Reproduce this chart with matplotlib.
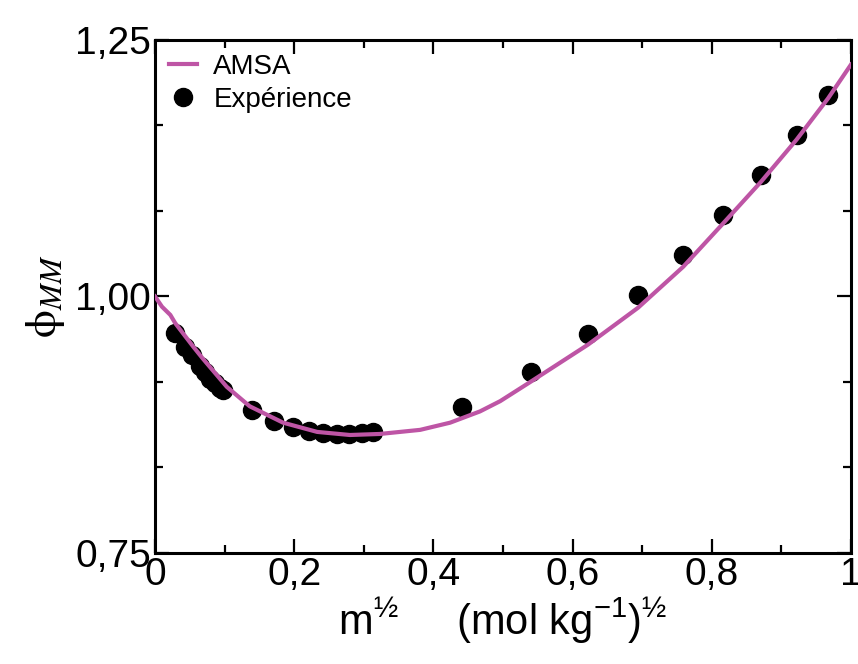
import matplotlib
matplotlib.use("Agg")
import matplotlib.pyplot as plt
from matplotlib.ticker import MultipleLocator, FuncFormatter

# AMSA model curve
amsa_x = [0.0, 0.01, 0.022, 0.029, 0.055, 0.068, 0.103, 0.136, 0.184, 0.233, 0.28,
          0.323, 0.381, 0.424, 0.467, 0.496, 0.54, 0.622, 0.694, 0.759, 0.816,
          0.871, 0.922, 0.967, 1.0]
amsa_y = [1.0, 0.990, 0.982, 0.974, 0.951, 0.940, 0.912, 0.893, 0.877, 0.868, 0.865,
          0.866, 0.870, 0.877, 0.888, 0.898, 0.917, 0.953, 0.989, 1.029, 1.071,
          1.112, 1.153, 1.193, 1.226]

# experimental points
exp_x = [0.029, 0.043, 0.053, 0.065, 0.072, 0.079, 0.086, 0.093, 0.098,
         0.139, 0.171, 0.198, 0.221, 0.241, 0.262, 0.279, 0.297, 0.313,
         0.441, 0.540, 0.622, 0.694, 0.759, 0.816, 0.871, 0.922, 0.967]
exp_y = [0.964, 0.951, 0.943, 0.932, 0.926, 0.920, 0.916, 0.911, 0.909,
         0.889, 0.879, 0.873, 0.869, 0.867, 0.866, 0.866, 0.867, 0.868,
         0.892, 0.926, 0.963, 1.001, 1.040, 1.079, 1.118, 1.157, 1.196]

plt.rcParams['font.family'] = ['Liberation Sans', 'DejaVu Sans']
plt.rcParams['mathtext.fontset'] = 'custom'
plt.rcParams['mathtext.rm'] = 'Liberation Sans'
plt.rcParams['mathtext.it'] = 'Liberation Sans:italic'

fig = plt.figure(figsize=(8.58, 6.64), dpi=100)
ax = fig.add_axes([0.1807, 0.1672, 0.8111, 0.7726])

ax.plot(amsa_x, amsa_y, color='#BE55A5', lw=3, label='AMSA', zorder=3,
        solid_joinstyle='round')
ax.plot(exp_x, exp_y, 'o', color='black', ms=13, label='Expérience', zorder=2)

ax.set_xlim(0, 1)
ax.set_ylim(0.75, 1.25)
ax.xaxis.set_major_locator(MultipleLocator(0.2))
ax.xaxis.set_minor_locator(MultipleLocator(0.1))
ax.yaxis.set_major_locator(MultipleLocator(0.25))
ax.yaxis.set_minor_locator(MultipleLocator(0.25 / 3))

def fmt_x(v, pos):
    s = '%g' % round(v, 2)
    return s.replace('.', ',')

def fmt_y(v, pos):
    return ('%.2f' % v).replace('.', ',')

ax.xaxis.set_major_formatter(FuncFormatter(fmt_x))
ax.yaxis.set_major_formatter(FuncFormatter(fmt_y))

ax.tick_params(which='both', direction='in', top=True, right=True,
               labelsize=28, width=1.6, pad=3)
ax.tick_params(which='major', length=10)
ax.tick_params(which='minor', length=6)
for sp in ax.spines.values():
    sp.set_linewidth(2.2)

ax.set_xlabel(r'$\mathregular{m^{½}\ \ \ \ \ (mol\ kg^{-1})^{½}}$', fontsize=30, labelpad=2)
ax.set_ylabel(r'$\mathrm{\phi}_{MM}$', fontsize=32, math_fontfamily='stix', labelpad=6)

ax.legend(loc='upper left', frameon=False, fontsize=20, handlelength=1.0,
          handletextpad=0.6, labelspacing=0.25, borderaxespad=0.3,
          borderpad=0.2, numpoints=1)

fig.savefig('out.png', dpi=100)
